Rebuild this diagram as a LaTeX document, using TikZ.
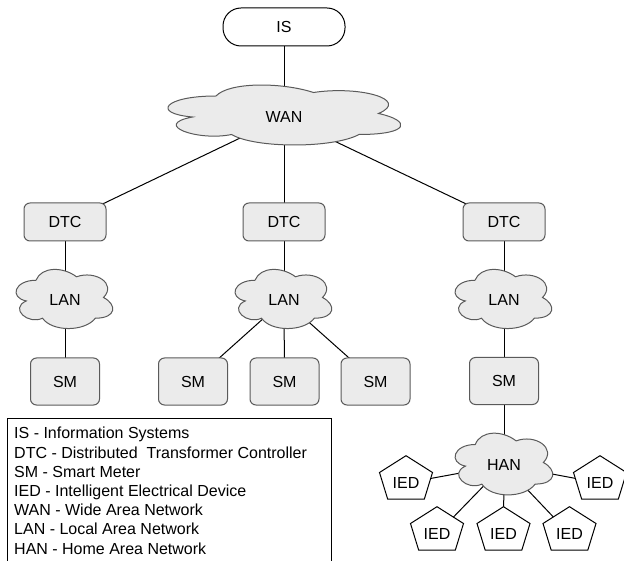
\documentclass[tikz,border=0pt]{standalone}
\usepackage{fontspec}
\setmainfont{Liberation Sans}
\pgfdeclarelayer{edges}
\pgfdeclarelayer{shapes}
\pgfsetlayers{edges,shapes,main}
\definecolor{boxfill}{HTML}{EBEBEB}
\definecolor{boxline}{HTML}{5A5A5A}
\tikzset{
  pill/.style={draw=black, fill=white, line width=1pt, rounded corners=18pt,
    minimum width=122pt, minimum height=38pt, inner sep=0pt},
  dtcbox/.style={draw=boxline, fill=boxfill, line width=1pt, rounded corners=6pt,
    minimum width=82pt, minimum height=38pt, inner sep=0pt},
  smbox/.style={draw=boxline, fill=boxfill, line width=1pt, rounded corners=6pt,
    minimum width=69pt, minimum height=47pt, inner sep=0pt},
  cloudtxt/.style={inner sep=0pt},
  iedtxt/.style={inner sep=0pt},
  cloudline/.style={draw=boxline, fill=boxfill, line width=1pt},
  pentline/.style={draw=black, fill=white, line width=1pt},
  conn/.style={draw=black, line width=1pt},
  legtxt/.style={anchor=base west, inner sep=0pt}
}
% draw.io style cloud around a label node: name, width, height, dx, dy of top-left corner
\newcommand\cloudaround[5]{%
  \begin{pgfonlayer}{shapes}
  \begin{scope}[shift={(#1.center)}, shift={(#4,#5)}, x=#2pt, y=-#3pt]
    \path[cloudline] (0.25,0.25) .. controls (0.05,0.25) and (0,0.5) .. (0.16,0.55)
      .. controls (0,0.66) and (0.18,0.9) .. (0.31,0.8)
      .. controls (0.4,1) and (0.7,1) .. (0.8,0.8)
      .. controls (1,0.8) and (1,0.6) .. (0.875,0.5)
      .. controls (1,0.3) and (0.8,0.1) .. (0.625,0.2)
      .. controls (0.5,0.05) and (0.3,0.05) .. (0.25,0.25) -- cycle;
  \end{scope}
  \end{pgfonlayer}}
% pentagon around an IED label node
\newcommand\pentaround[1]{%
  \begin{pgfonlayer}{shapes}
  \begin{scope}[shift={(#1.center)}]
    \path[pentline] (0,-27.3) -- (26.5,-10.5) -- (18.3,16.2) -- (-18.3,16.2)
      -- (-26.5,-10.5) -- cycle;
  \end{scope}
  \end{pgfonlayer}}

\begin{document}
\begin{tikzpicture}[x=1pt, y=-1pt, font=\fontsize{16}{19.2}\selectfont]
\useasboundingbox (0,0) rectangle (624,561);
\clip (0,0) rectangle (624,561);

% nodes
\node[pill] (is) at (284,27) {IS};
\node[cloudtxt] (wan) at (284,117) {WAN};
\node[dtcbox] (dtc1) at (65,222) {DTC};
\node[dtcbox] (dtc2) at (284,222) {DTC};
\node[dtcbox] (dtc3) at (504,222) {DTC};
\node[cloudtxt] (lan1) at (65,300) {LAN};
\node[cloudtxt] (lan2) at (284,300) {LAN};
\node[cloudtxt] (lan3) at (504,300) {LAN};
\node[smbox] (sm1) at (65,381.5) {SM};
\node[smbox] (sm2) at (193,381.5) {SM};
\node[smbox] (sm3) at (284.5,381.5) {SM};
\node[smbox] (sm4) at (375.5,381.5) {SM};
\node[smbox] (sm5) at (504,381) {SM};
\node[cloudtxt] (han) at (504,465) {HAN};
\node[iedtxt] (i1) at (406,483) {IED};
\node[iedtxt] (i2) at (437,534) {IED};
\node[iedtxt] (i3) at (503.5,534) {IED};
\node[iedtxt] (i4) at (569.5,534) {IED};
\node[iedtxt] (i5) at (600,483) {IED};

% shapes behind labels
\cloudaround{wan}{260}{70}{-133}{-38.5}
\cloudaround{lan1}{108}{69}{-56}{-37}
\cloudaround{lan2}{108}{69}{-56}{-37}
\cloudaround{lan3}{108}{69}{-56}{-37}
\cloudaround{han}{109}{72}{-56}{-38.5}
\pentaround{i1}
\pentaround{i2}
\pentaround{i3}
\pentaround{i4}
\pentaround{i5}

% connectors
\begin{pgfonlayer}{edges}
\draw[conn] (is.center) -- (wan.center);
\draw[conn] (wan.center) -- (dtc1.center);
\draw[conn] (wan.center) -- (dtc2.center);
\draw[conn] (wan.center) -- (dtc3.center);
\draw[conn] (dtc1.center) -- (lan1.center);
\draw[conn] (dtc2.center) -- (lan2.center);
\draw[conn] (dtc3.center) -- (lan3.center);
\draw[conn] (lan1.center) -- (sm1.center);
\draw[conn] (lan2.center) -- (sm2.center);
\draw[conn] (lan2.center) -- (sm3.center);
\draw[conn] (lan2.center) -- (sm4.center);
\draw[conn] (lan3.center) -- (sm5.center);
\draw[conn] (sm5.center) -- (han.center);
\draw[conn] (han.center) -- (i1.center);
\draw[conn] (han.center) -- (i2.center);
\draw[conn] (han.center) -- (i3.center);
\draw[conn] (han.center) -- (i4.center);
\draw[conn] (han.center) -- (i5.center);
\end{pgfonlayer}

% legend
\draw[line width=1pt] (7,418) rectangle (331,600);
\node[legtxt] (leg1) at (14,438.9) {IS - Information Systems};
\node[legtxt] (leg2) at (14,458.1) {DTC - Distributed~ Transformer Controller};
\node[legtxt] (leg3) at (14,477.3) {SM - Smart Meter};
\node[legtxt] (leg4) at (14,496.5) {IED - Intelligent Electrical Device};
\node[legtxt] (leg5) at (14,515.7) {WAN - Wide Area Network};
\node[legtxt] (leg6) at (14,534.9) {LAN - Local Area Network};
\node[legtxt] (leg7) at (14,554.1) {HAN - Home Area Network};
\end{tikzpicture}
\end{document}
